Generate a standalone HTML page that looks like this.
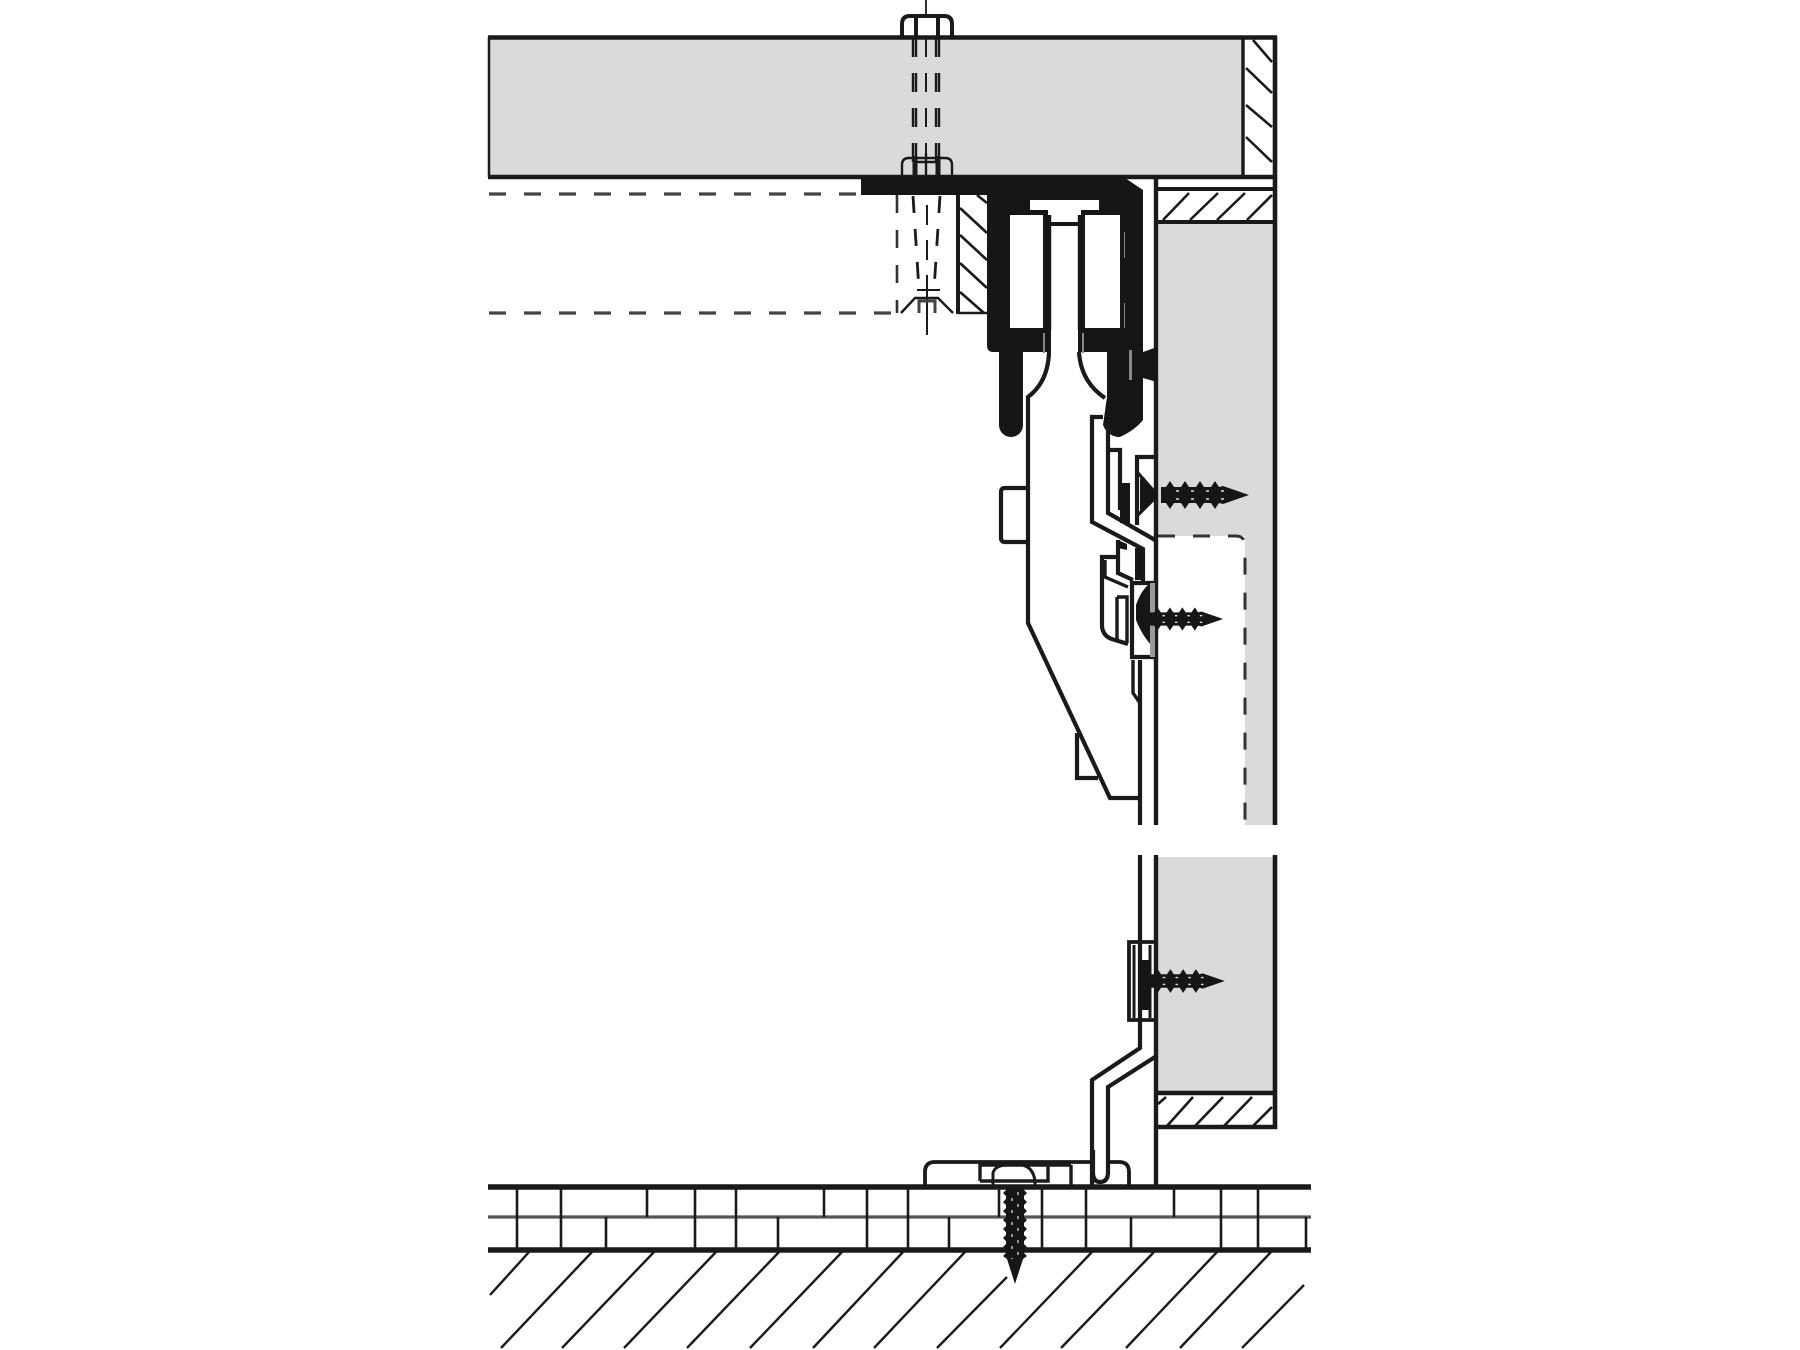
<!DOCTYPE html>
<html><head><meta charset="utf-8"><style>html,body{margin:0;padding:0;background:#fff}svg{display:block}</style></head>
<body>
<svg width="1800" height="1350" viewBox="0 0 1800 1350" xmlns="http://www.w3.org/2000/svg">
<defs>
<g id="s">
<path fill="#161616" d="M0,-8 L5,-8 L9,-14 L13,-8 L20,-8 L24,-14 L28,-8 L35,-8 L39,-14 L43,-8 L50,-8 L54,-14 L58,-8 L62,-9 L88,0 L62,9 L58,8 L54,14 L50,8 L43,8 L39,14 L35,8 L28,8 L24,14 L20,8 L13,8 L9,14 L5,8 L0,8 Z"/>
<path stroke="#ddd" stroke-width="1.6" stroke-dasharray="3 12" fill="none" d="M15,-4 H72 M15,4 H72"/>
</g>
<g id="v">
<path fill="#161616" d="M0,-9 L3,-9 L6,-12 L9,-9 L12,-9 L15,-12 L18,-9 L21,-9 L24,-12 L27,-9 L30,-9 L33,-12 L36,-9 L39,-9 L42,-12 L45,-9 L48,-9 L51,-12 L54,-9 L57,-9 L60,-12 L63,-9 L66,-9 L69,-12 L72,-8 L97,0 L72,8 L69,12 L66,9 L63,9 L60,12 L57,9 L54,9 L51,12 L48,9 L45,9 L42,12 L39,9 L36,9 L33,12 L30,9 L27,9 L24,12 L21,9 L18,9 L15,12 L12,9 L9,9 L6,12 L3,9 L0,9 Z"/>
<path stroke="#ccc" stroke-width="1.4" stroke-dasharray="3 9" fill="none" d="M5,-3 H72 M11,3 H72"/>
</g>
</defs>
<rect width="1800" height="1350" fill="#fff"/>

<!-- grey boards -->
<rect x="489" y="37" width="754" height="140" fill="#d9dadc"/>
<rect x="1157" y="222" width="116" height="314" fill="#d9dadc"/>
<rect x="1245" y="536" width="28" height="289" fill="#d9dadc"/>
<rect x="1157" y="857" width="116" height="236" fill="#d9dadc"/>

<g fill="none" stroke="#1a1a1a" stroke-linecap="butt">
<!-- top panel -->
<path stroke-width="4.6" d="M488,37.5 H1277 M488,177 H1275"/>
<path stroke-width="2.5" d="M489,37 V177"/>
<path stroke-width="3.4" d="M1243,37 V177"/>
<path stroke-width="2.6" d="M1253,40 L1272,62 M1246,68 L1272,93 M1246,105 L1272,127 M1246,137 L1272,162"/>
<!-- right side -->
<path stroke-width="4.6" d="M1275,36 V825 M1275,855 V1129"/>
<path stroke-width="4.4" d="M1156,176 V825 M1156,855 V1187"/>
<path stroke-width="4" d="M1157,189 H1275 M1157,222 H1275"/>
<path stroke-width="2.6" d="M1163,220 L1189,193 M1190,220 L1218,193 M1217,220 L1245,193 M1247,220 L1272,195"/>
<!-- lower band -->
<path stroke-width="4.4" d="M1156,1093 H1277 M1156,1127 H1277"/>
<path stroke-width="2.6" d="M1167,1126 L1193,1097 M1195,1126 L1223,1097 M1224,1126 L1252,1097 M1253,1126 L1272,1107 M1158,1104 L1166,1097"/>
<!-- dashed edge of cutout -->
<path stroke="#333" stroke-width="3" stroke-dasharray="17 18" d="M1158,536 H1236 Q1245,536 1245,546 V825"/>
<!-- dashed door -->
<path stroke="#444" stroke-width="3.2" stroke-dasharray="17 18" d="M489,194 H861 M489,313 H896"/>
<path stroke="#333" stroke-width="2.6" stroke-dasharray="18 17" d="M897,195 V313"/>
<path stroke-width="4" d="M958,194 V314"/>
<path stroke-width="2.6" d="M960,208 L987,233 M960,235 L987,260 M960,263 L987,288 M960,292 L984,313 M977,195 L987,203 M958,313 H988"/>
</g>

<!-- bolts -->
<g fill="none" stroke="#1a1a1a">
<path stroke-width="4" d="M902,36 V24 Q902,16 910,16 H944 Q952,16 952,24 V36 M916,17 V36 M938,17 V36"/>
<path stroke-width="1.8" d="M926,0 V14"/>
<path stroke-width="2.4" stroke-dasharray="19 16" d="M913,38 V175 M916,38 V175 M936,38 V175 M939,38 V175"/>
<path stroke-width="2" stroke-dasharray="19 16" d="M926,38 V175"/>
<path stroke-width="2.4" d="M902,176 V165 Q902,158 909,158 H945 Q952,158 952,165 V176"/>
<path stroke-width="5" d="M915,156 V176 M938,156 V176"/>
<path stroke-width="2.4" d="M915,162 H938 M926,153 V176"/>
<path stroke-width="2.8" stroke-dasharray="17 16" d="M913,196 L919,290 M940,196 L934,290"/>
<path stroke-width="2" stroke-dasharray="20 15" d="M927,205 V292"/>
<path stroke-width="2" d="M917,290 H940 M927,277 V335"/>
<path stroke-width="2.4" d="M901,313 L915,298 H938 L953,313"/>
<path stroke-width="3" stroke="#444" d="M919,313 V301 H935 V313"/>
</g>

<!-- black bracket -->
<path fill="#161616" fill-rule="evenodd" d="M861,176 H1122 L1143,190 V420 Q1135,430 1120,437 Q1108,437 1103,425 L1107,397 V352 H1023 V425 A12,12 0 0 1 999,425 V352 H993 Q987,352 987,345 V195 H861 Z
M1010,215 V328 H1043 V215 Z
M1085,215 V328 H1120 V215 Z
M1030,200 V210 H1048 V222 H1081 V210 H1099 V200 Z"/>
<path fill="#fff" d="M1051,226 H1078 V352 H1051 Z"/>
<path fill="none" stroke="#161616" stroke-width="4.4" d="M1049,215 V330 M1080,215 V330"/>
<path fill="#fff" d="M1023,352 H1046 Q1047,385 1028,397 H1023 Z"/>
<path fill="#161616" d="M1143,352 L1157,347 V382 L1143,378 Z"/>
<path fill="#888" d="M1129,350 h3 v30 h-3 z M1124,232 h1 v26 h-1 z M1124,303 h1 v25 h-1 z M1043,333 h2 v20 h-2 z M1082,333 h2 v20 h-2 z"/>
<rect x="980" y="176" width="6" height="19" fill="#161616"/>

<!-- carcass body outline -->
<g fill="none" stroke="#1a1a1a" stroke-width="4.2">
<path d="M1049,352 Q1048,382 1028,397 V623 L1110,798 H1140"/>
<path d="M1079,352 Q1081,382 1105,398"/>
<path d="M1027,488 H1005 Q1001,488 1001,492 V538 Q1001,542 1005,542 H1027"/>
<path d="M1077,733 V778 H1098"/>
<path d="M1140,660 V825 M1140,855 V1048 L1092,1080 V1187"/>
<path d="M1155,1057 L1108,1087 V1172 Q1108,1182 1100,1182 Q1093,1182 1093,1172 V1150"/>
<!-- mechanism -->
<path d="M1103,417 H1092 V522 L1143,549 V582"/>
<path d="M1108,425 V513 L1155,540"/>
<path d="M1110,450 H1120 V510"/>
<path d="M1155,457 H1137 V525"/>
<path stroke-width="3.2" d="M1138,473 L1153,490 M1153,500 L1138,515"/>
<path d="M1118,540 V573 L1133,580"/>
<path d="M1118,557 H1102 V625 Q1102,637 1115,640 L1128,644"/>
<path stroke-width="3.4" d="M1105,560 V577 L1128,587"/>
<path stroke-width="3.4" d="M1117,597 H1127 V643 M1117,597 V640"/>
<path d="M1132,583 H1155 V657 H1132 Z"/>
<path stroke-width="3.4" d="M1133,660 V693 L1140,703"/>
<!-- lower clip -->
<path stroke-width="3.8" d="M1155,942 H1129 V1020 H1155"/>
<path stroke-width="3" d="M1134,945 V1018 M1150,945 V1018"/>
<!-- floor bracket -->
<path stroke-width="3.8" d="M925,1185 V1172 Q925,1162 935,1162 H1093 M1108,1162 H1119 Q1129,1162 1129,1172 V1185"/>
<path stroke-width="3.4" d="M980,1181 V1165 H1048 V1181 H980"/>
<path stroke-width="3" d="M993,1181 V1173 Q995,1165 1008,1165 H1022 Q1033,1167 1035,1181 M993,1185 V1181 M1035,1185 V1181"/>
<path stroke-width="3.4" d="M1071,1165 V1185 M1048,1165 H1071"/>
</g>
<!-- black bits in mechanism -->
<g fill="#161616">
<rect x="1120" y="483" width="10" height="40"/>
<rect x="1135" y="548" width="8" height="32"/>
<path d="M1118,540 L1127,544 V550 L1118,548 Z"/>
<path d="M1136,605 Q1142,588 1151,583 V645 Q1142,635 1136,620 Z"/>
<rect x="1138" y="960" width="13" height="50"/>
</g>
<path fill="#9a9a9a" d="M1150,583 h5 v74 h-5 z"/>

<use href="#s" transform="translate(1161,495)"/>
<path fill="#161616" d="M1140,478 L1157,492 V498 L1140,512 Z"/>
<use href="#s" transform="translate(1150,619) scale(.83)"/>
<use href="#s" transform="translate(1150,981) scale(.85)"/>

<!-- floor -->
<g fill="none" stroke="#1a1a1a">
<path stroke-width="5.4" d="M488,1187 H1311 M488,1250 H1311"/>
<path stroke="#555" stroke-width="3.2" d="M488,1217 H1311"/>
<path stroke-width="2.6" d="M517,1187 V1217 M561,1187 V1217 M647,1187 V1217 M695,1187 V1217 M736,1187 V1217 M824,1187 V1217 M867,1187 V1217 M908,1187 V1217 M999,1187 V1217 M1042,1187 V1217 M1086,1187 V1217 M1174,1187 V1217 M1221,1187 V1217 M1258,1187 V1217"/>
<path stroke-width="2.6" d="M517,1217 V1250 M561,1217 V1250 M606,1217 V1250 M695,1217 V1250 M736,1217 V1250 M778,1217 V1250 M867,1217 V1250 M908,1217 V1250 M949,1217 V1250 M1042,1217 V1250 M1086,1217 V1250 M1131,1217 V1250 M1221,1217 V1250 M1258,1217 V1250 M1306,1217 V1250"/>
<path stroke-width="2.4" d="M529,1252 L490,1295 M592,1252 L501,1348 M654,1252 L562,1348 M716,1252 L624,1348 M779,1252 L687,1348 M842,1252 L750,1348 M903,1252 L813,1348 M965,1252 L874,1348 M1007,1277 L937,1348 M1092,1252 L1000,1348 M1154,1252 L1061,1348 M1217,1252 L1126,1348 M1271,1252 L1180,1348 M1304,1285 L1242,1348"/>
</g>
<use href="#v" transform="translate(1015,1187) rotate(90)"/>
</svg>
</body></html>
